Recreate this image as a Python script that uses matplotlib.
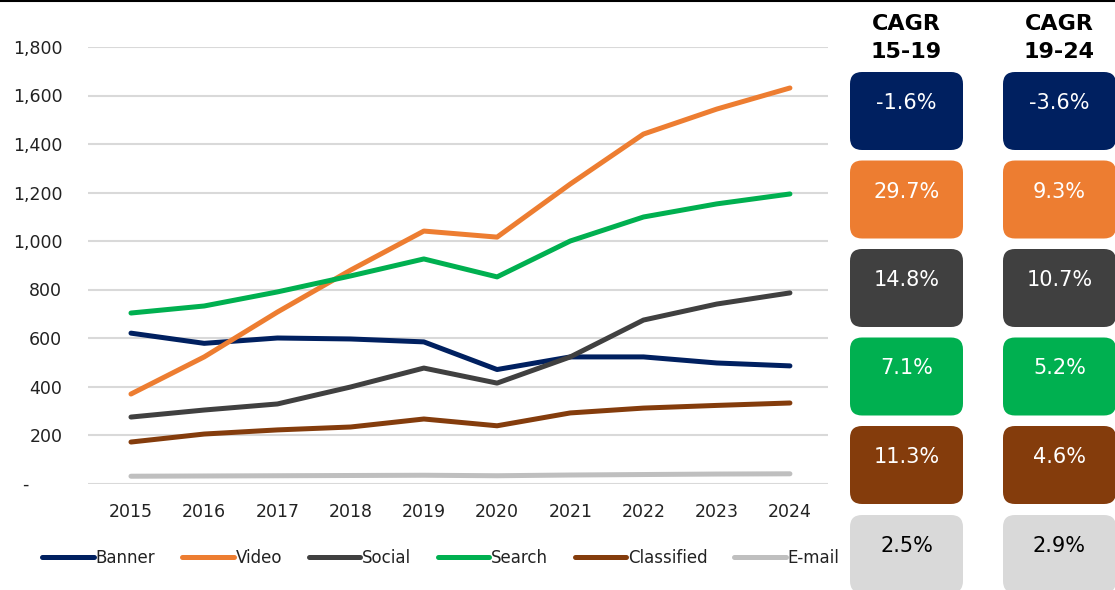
import matplotlib
matplotlib.use("Agg")
import matplotlib.pyplot as plt
from matplotlib.patches import FancyBboxPatch
from matplotlib.lines import Line2D

years = [2015, 2016, 2017, 2018, 2019, 2020, 2021, 2022, 2023, 2024]
banner = [620, 578, 600, 596, 584, 470, 522, 522, 497, 485]
video = [369, 522, 707, 880, 1041, 1016, 1235, 1441, 1544, 1631]
social = [274, 303, 328, 398, 476, 414, 522, 674, 740, 786]
search = [703, 732, 790, 856, 926, 852, 1000, 1099, 1153, 1194]
classified = [171, 204, 221, 233, 266, 238, 291, 311, 322, 332]
email = [30, 31, 32, 33, 34, 32, 35, 37, 39, 40]

series_names = ["Banner", "Video", "Social", "Search", "Classified", "E-mail"]
colors = ["#002060", "#ED7D31", "#404040", "#00B050", "#843C0C", "#BFBFBF"]
box_colors = ["#002060", "#ED7D31", "#404040", "#00B050", "#843C0C", "#D9D9D9"]
text_colors = ["white", "white", "white", "white", "white", "black"]
cagr_15_19 = ["-1.6%", "29.7%", "14.8%", "7.1%", "11.3%", "2.5%"]
cagr_19_24 = ["-3.6%", "9.3%", "10.7%", "5.2%", "4.6%", "2.9%"]
headers = ["CAGR\n15-19", "CAGR\n19-24"]
yticks = [0, 200, 400, 600, 800, 1000, 1200, 1400, 1600, 1800]
ytick_labels = ["-      ", "200", "400", "600", "800", "1,000", "1,200", "1,400", "1,600", "1,800"]

plt.rcParams['font.family'] = ['DejaVu Sans']
W, H = 1115, 590
fig = plt.figure(figsize=(W / 100, H / 100), dpi=100)

ax = fig.add_axes([88 / W, (H - 483.5) / H, (828 - 88) / W, (483.5 - 47) / H])
all_series = [banner, video, social, search, classified, email]
for vals, name, c in zip(all_series, series_names, colors):
    ax.plot(years, vals, color=c, lw=3.6, solid_capstyle='round', label=name)
ax.set_ylim(0, 1800)
ax.set_xlim(2014.413, 2024.52)
ax.set_yticks(yticks)
ax.set_yticklabels(ytick_labels, fontsize=12.5, color="#222222")
ax.set_xticks(years)
ax.set_xticklabels([str(y) for y in years], fontsize=12.5, color="#222222")
ax.tick_params(axis='both', length=0)
ax.tick_params(axis='y', pad=18.5)
ax.tick_params(axis='x', pad=14)
ax.grid(axis='y', color="#D9D9D9", lw=1.5)
ax.set_axisbelow(True)
for s in ax.spines.values():
    s.set_visible(False)

handles = [Line2D([0], [0], color=c, lw=3.6, solid_capstyle='round') for c in colors]
fig.legend(handles, series_names, loc='center', bbox_to_anchor=(441 / W, (H - 558) / H),
           ncol=6, frameon=False, fontsize=12, handlelength=3.1, handletextpad=0.1,
           columnspacing=1.6, labelcolor="#222222")

# overlay axes for boxes
ov = fig.add_axes([0, 0, 1, 1])
ov.set_xlim(0, W)
ov.set_ylim(H, 0)
ov.axis('off')
ov.plot([0, W], [1, 1], color='black', lw=1.5)

col_x = [850, 1003]
box_w = 113
box_h = 78
tops = [72, 160.5, 249, 337.5, 426, 515]
for ci, (cx, vals) in enumerate(zip(col_x, [cagr_15_19, cagr_19_24])):
    ov.text(cx + box_w / 2, 38, headers[ci], ha='center', va='center', fontsize=16,
            fontweight='bold', linespacing=1.45, color='black')
    for i, v in enumerate(vals):
        p = FancyBboxPatch((cx, tops[i]), box_w, box_h,
                           boxstyle="round,pad=0,rounding_size=12",
                           fc=box_colors[i], ec='none')
        ov.add_patch(p)
        ov.text(cx + box_w / 2, tops[i] + 31, v, ha='center', va='center',
                fontsize=15, color=text_colors[i])

fig.savefig("out.png", dpi=100)
